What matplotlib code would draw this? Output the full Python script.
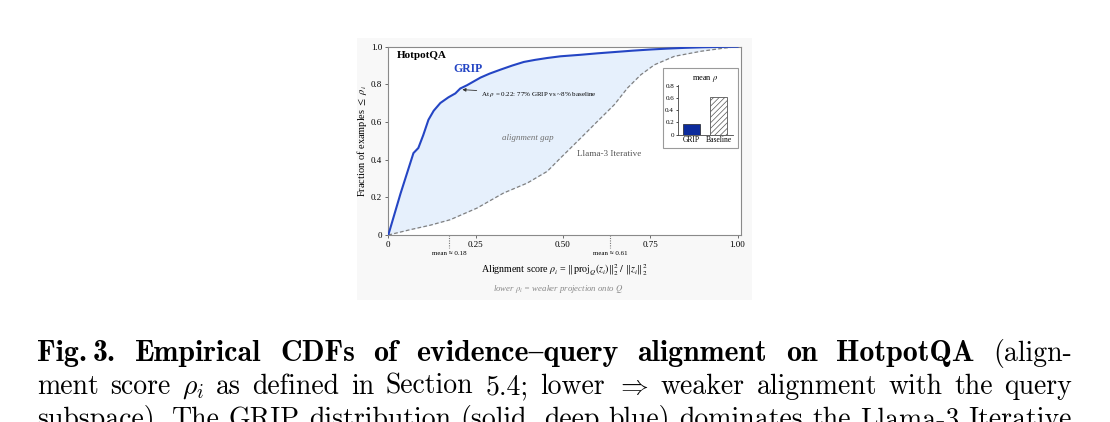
import matplotlib
matplotlib.use("Agg")
import matplotlib.pyplot as plt
import numpy as np
from matplotlib.patches import Rectangle

W, H = 1110, 422

# empirical CDF
grip_x = [0, 0.035, 0.072, 0.086, 0.10, 0.115, 0.13, 0.149, 0.172, 0.192, 0.206, 0.225,
          0.244, 0.264, 0.29, 0.321, 0.355, 0.388, 0.42, 0.455, 0.493, 0.55, 0.6, 0.65,
          0.7, 0.75, 0.8, 0.85, 0.9, 0.95, 1.0]
grip_y = [0, 0.22, 0.435, 0.462, 0.53, 0.612, 0.66, 0.701, 0.731, 0.752, 0.778, 0.795,
          0.815, 0.836, 0.857, 0.878, 0.9, 0.919, 0.93, 0.94, 0.949, 0.957, 0.965, 0.972,
          0.979, 0.985, 0.99, 0.994, 0.997, 0.999, 1.0]
base_x = [0, 0.062, 0.12, 0.177, 0.254, 0.33, 0.398, 0.455, 0.493, 0.551, 0.599, 0.647,
          0.685, 0.723, 0.762, 0.819, 0.896, 0.963, 1.0]
base_y = [0, 0.028, 0.052, 0.081, 0.143, 0.223, 0.276, 0.338, 0.409, 0.515, 0.604, 0.692,
          0.781, 0.851, 0.904, 0.949, 0.976, 0.993, 1.0]

mean_pos = [0.175, 0.635]
mean_labels = ["mean ≈ 0.18", "mean ≈ 0.61"]
bar_names = ["GRIP", "Baseline"]
bar_means = [0.18, 0.61]

x_ticks = [0, 0.25, 0.5, 0.75, 1.0]
x_ticklabels = ["0", "0.25", "0.50", "0.75", "1.00"]
y_ticks = [0, 0.2, 0.4, 0.6, 0.8, 1.0]
y_ticklabels = ["0", "0.2", "0.4", "0.6", "0.8", "1.0"]

BLUE = "#2445c4"
DEEP = "#0c2b9c"
GRAY = "#6f6f6f"

plt.rcParams["font.family"] = ["Liberation Serif", "DejaVu Serif"]
plt.rcParams["mathtext.fontset"] = "stix"
plt.rcParams["hatch.color"] = "#aaaaaa"
plt.rcParams["hatch.linewidth"] = 0.5


def fx(px):
    return px / W


def fy(py):
    return 1 - py / H


fig = plt.figure(figsize=(W / 100, H / 100), dpi=100)
fig.patch.set_facecolor("white")

# light panel behind the embedded chart
fig.patches.append(Rectangle((fx(357), fy(300)), fx(752) - fx(357), fy(38) - fy(300),
                             transform=fig.transFigure, facecolor="#f8f8f8",
                             edgecolor="none", zorder=-5))

ax = fig.add_axes([fx(388.3), fy(235), fx(740.7) - fx(388.3), fy(46.7) - fy(235)])
ax.set_facecolor("white")

xs = np.union1d(grip_x, base_x)
ax.fill_between(xs, np.interp(xs, base_x, base_y), np.interp(xs, grip_x, grip_y),
                color="#e6f0fc", lw=0, zorder=1)
ax.plot(base_x, base_y, color="#808080", lw=0.9, dashes=(3, 1.8), zorder=2)
ax.plot(grip_x, grip_y, color=BLUE, lw=1.5, zorder=3)

ax.set_xlim(0, 1.009)
ax.set_ylim(0, 1.0)
ax.set_xticks(x_ticks)
ax.set_xticklabels(x_ticklabels)
ax.set_yticks(y_ticks)
ax.set_yticklabels(y_ticklabels)
ax.tick_params(labelsize=6.5, length=2.5, width=0.6, color="#555", pad=2)
for s in ax.spines.values():
    s.set_color("#8a8a8a")
    s.set_linewidth(0.8)

ax.set_xlabel(r"Alignment score $\rho_i$ = $\Vert\mathrm{proj}_{Q}(z_i)\Vert_2^2\ /\ \Vert z_i\Vert_2^2$",
              fontsize=7.2, labelpad=9)
ax.set_ylabel(r"Fraction of examples $\leq$ $\rho_i$", fontsize=7.5, labelpad=1)

for xm, lab in zip(mean_pos, mean_labels):
    ax.plot([xm, xm], [0, -0.07], transform=ax.get_xaxis_transform(), clip_on=False,
            color="#777", lw=0.8, ls=(0, (1, 1.2)))
    ax.text(xm, -0.10, lab, transform=ax.get_xaxis_transform(), ha="center", va="center",
            fontsize=5)

ax.text(0.024, 0.952, "HotpotQA", fontsize=8, fontweight="bold", va="center", ha="left")
ax.text(0.186, 0.882, "GRIP", fontsize=8.5, fontweight="bold", color=BLUE, va="center")
ax.annotate(r"At $\rho$ = 0.22: 77% GRIP vs ~8% baseline", xy=(0.212, 0.772),
            xytext=(0.265, 0.747), fontsize=5.0, va="center", ha="left",
            arrowprops=dict(arrowstyle="-|>", color="#333", lw=0.6, mutation_scale=5,
                            shrinkA=1, shrinkB=0))
ax.text(0.40, 0.513, "alignment gap", fontsize=6.4, style="italic", color=GRAY,
        ha="center", va="center")
ax.text(0.632, 0.43, "Llama-3 Iterative", fontsize=6.6, color="#555", ha="center",
        va="center")

fig.text(fx(558), fy(289), r"lower $\rho_i$ = weaker projection onto $Q$", fontsize=6.3,
         style="italic", color="#888", ha="center", va="center")

# inset: mean rho per system
fig.patches.append(Rectangle((fx(663), fy(148)), fx(737.5) - fx(663), fy(68) - fy(148),
                             transform=fig.transFigure, facecolor="white",
                             edgecolor="#9a9a9a", lw=0.8, zorder=5))
iax = fig.add_axes([fx(677.5), fy(134.7), fx(732.5) - fx(677.5), fy(84.6) - fy(134.7)],
                   zorder=6)
iax.set_facecolor("none")
iax.bar([0], bar_means[:1], width=0.62, color=DEEP, edgecolor="#222", lw=0.5)
iax.bar([1], bar_means[1:], width=0.62, color="white", edgecolor="#555", lw=0.6,
        hatch="//////")
iax.set_xlim(-0.5, 1.5)
iax.set_ylim(0, 0.82)
iax.set_xticks([0, 1])
iax.set_xticklabels(bar_names)
iax.set_yticks([0, 0.2, 0.4, 0.6, 0.8])
iax.set_yticklabels(["0", "0.2", "0.4", "0.6", "0.8"])
iax.tick_params(labelsize=5, length=1.5, width=0.5, pad=1)
iax.tick_params(axis="x", length=0, labelsize=5.5)
iax.spines["top"].set_visible(False)
iax.spines["right"].set_visible(False)
for s in ("left", "bottom"):
    iax.spines[s].set_linewidth(0.6)
    iax.spines[s].set_color("#444")
iax.set_title(r"mean $\rho$", fontsize=6, pad=3)

# caption, justified like the LaTeX page
CAP = 20.0
CAP_BOLD = 21.5
cap_lines = [
    (361, [("Fig.", "b", 6), ("3.", "b", None), ("Empirical", "b", None), ("CDFs", "b", None),
           ("of", "b", None), ("evidence{query", "b", None), ("alignment", "b", None),
           ("on", "b", None), ("HotpotQA", "b", None), ("(align-", "r", None)]),
    (394, [("ment", "r", None), ("score", "r", None), (r"$\rho_i$", "r", None),
           ("as", "r", None), ("defined", "r", None), ("in", "r", None),
           ("Section", "r", None), ("5.4;", "r", None), ("lower", "r", None),
           (r"$\Rightarrow$", "r", None), ("weaker", "r", None), ("alignment", "r", None),
           ("with", "r", None), ("the", "r", None), ("query", "r", None)]),
    (427, [("subspace).", "r", None), ("The", "r", None), ("GRIP", "r", None),
           ("distribution", "r", None), ("(solid,", "r", None), ("deep", "r", None),
           ("blue)", "r", None), ("dominates", "r", None), ("the", "r", None),
           ("Llama-3", "r", None), ("Iterative", "r", None)]),
]
X0, X1 = 37, 1072
renderer = fig.canvas.get_renderer()
for base_y_px, words in cap_lines:
    items = []
    for txt, wt, fixed in words:
        bold = wt == "b"
        t = fig.text(0, fy(base_y_px), txt, fontsize=CAP_BOLD if bold else CAP,
                     va="baseline", ha="left", family="cmb10" if bold else "cmr10",
                     math_fontfamily="cm")
        w = t.get_window_extent(renderer).width
        items.append((t, w, fixed))
    fixed_total = sum(f for _, _, f in items[:-1] if f is not None)
    n_stretch = sum(1 for _, _, f in items[:-1] if f is None)
    gap = (X1 - X0 - sum(w for _, w, _ in items) - fixed_total) / n_stretch
    x = X0
    for t, w, f in items:
        t.set_x(fx(x))
        x += w + (f if f is not None else gap)

fig.savefig("out.png", dpi=100, facecolor="white")
